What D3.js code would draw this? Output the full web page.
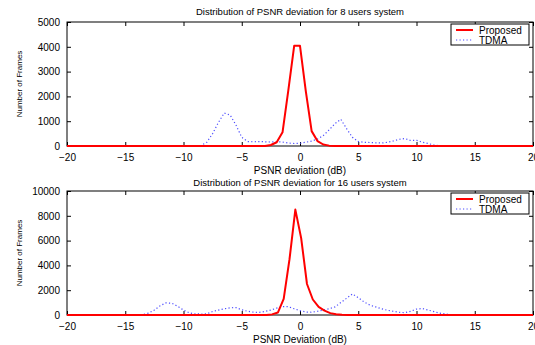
<!DOCTYPE html>
<html><head><meta charset="utf-8">
<script src="https://cdn.jsdelivr.net/npm/d3@7"></script>
<style>body{margin:0;background:#fff} svg{display:block} text{font-family:"Liberation Sans",Arial,Helvetica,sans-serif;fill:#000}</style>
</head><body><svg id="c" width="535" height="345"></svg>
<script>
// ---- data ----
const xTicks = [-20,-15,-10,-5,0,5,10,15,20];
const yTicks8 = [0,1000,2000,3000,4000,5000];
const yTicks16 = [0,2000,4000,6000,8000,10000];
const seriesNames = ["Proposed","TDMA"];

// 8 users
const prop8X = [-20,-3,-2.5,-2,-1.5,-1,-0.5,0,0.5,1,1.5,2,2.5,3,20];
const prop8Y = [0,0,40,150,550,2250,4040,4040,2200,600,200,60,15,0,0];
const tdma8X = [-20,-9,-8.5,-8,-7.5,-7,-6.5,-6,-5.5,-5,-4.5,-4,-3.5,-3,-2.5,-2,-1.5,-1,-0.5,0,0.5,1,1.5,2,2.5,3,3.5,4,4.5,5,5.5,6,6.5,7,7.5,8,8.5,9,9.5,10,10.5,11,11.5,12,12.5,20];
const tdma8Y = [0,0,20,150,500,950,1330,1250,850,350,180,170,180,170,160,170,160,120,100,110,150,200,280,420,650,900,1080,700,350,180,150,140,130,120,150,200,270,300,220,230,150,100,40,10,0,0];

// 16 users
const prop16X = [-20,-2.9,-2.4,-1.9,-1.4,-0.9,-0.4,0.1,0.6,1.1,1.6,2.1,2.6,3.1,3.6,4.1,20];
const prop16Y = [0,0,50,200,1300,4500,8500,6200,2500,1250,650,350,150,60,20,0,0];
const tdma16X = [-20,-14,-13.5,-13,-12.5,-12,-11.5,-11,-10.5,-10,-9.5,-9,-8.5,-8,-7.5,-7,-6.5,-6,-5.5,-5,-4.5,-4,-3.5,-3,-2.5,-2,-1.5,-1,-0.5,0,0.5,1,1.5,2,2.5,3,3.5,4,4.5,5,5.5,6,6.5,7,7.5,8,8.5,9,9.5,10,10.5,11,11.5,12,12.5,13,13.5,20];
const tdma16Y = [0,0,30,150,400,750,980,950,700,400,170,90,80,90,280,400,500,580,600,420,300,230,210,290,400,560,680,670,500,350,240,220,300,400,500,650,1000,1350,1700,1400,1050,800,650,500,380,300,220,190,300,480,520,400,270,150,80,20,0,0];

const panels = [
  {title:"Distribution of PSNR deviation for 8 users system", xlabel:"PSNR deviation (dB)", top:22, bottom:146, titleY:14.5, ymax:5000, yTicks:yTicks8,
   px:prop8X, py:prop8Y, tx:tdma8X, ty:tdma8Y},
  {title:"Distribution of PSNR deviation for 16 users system", xlabel:"PSNR Deviation (dB)", top:191, bottom:315, titleY:186, ymax:10000, yTicks:yTicks16,
   px:prop16X, py:prop16Y, tx:tdma16X, ty:tdma16Y}
];

const svg = d3.select("#c");
const L = 67, R = 533;
const x = d3.scaleLinear().domain([-20,20]).range([L,R]);

panels.forEach(p => {
  const y = d3.scaleLinear().domain([0,p.ymax]).range([p.bottom,p.top]);
  const g = svg.append("g");
  g.append("text").attr("x",(L+R)/2).attr("y",p.titleY).attr("text-anchor","middle").style("font-size","9.5px").text(p.title);
  g.append("text").attr("transform",`translate(22,${(p.top+p.bottom)/2}) rotate(-90)`).attr("text-anchor","middle").style("font-size","8px").text("Number of Frames");
  g.append("text").attr("x",(L+R)/2).attr("y",p.bottom+28).attr("text-anchor","middle").style("font-size","10px").text(p.xlabel);

  const xb = d3.axisBottom(x).tickValues(xTicks).tickSize(-4).tickPadding(8).tickFormat(d => d<0 ? "\u2212"+Math.abs(d) : String(d));
  const xt = d3.axisTop(x).tickValues(xTicks).tickSize(-4).tickFormat("");
  const yl = d3.axisLeft(y).tickValues(p.yTicks).tickSize(-4).tickPadding(7).tickFormat(d => String(d));
  const yr = d3.axisRight(y).tickValues(p.yTicks).tickSize(-4).tickFormat("");
  [[xb,`translate(0,${p.bottom})`],[xt,`translate(0,${p.top})`],[yl,`translate(${L},0)`],[yr,`translate(${R},0)`]].forEach(([ax,tr]) => {
    const a = g.append("g").attr("transform",tr).call(ax);
    a.select(".domain").remove();
    a.selectAll("line").attr("stroke","#000");
    a.selectAll("text").style("font-size","10px").style("font-family","'Liberation Sans',Arial,sans-serif");
  });
  g.append("rect").attr("x",L).attr("y",p.top).attr("width",R-L).attr("height",p.bottom-p.top).attr("fill","none").attr("stroke","#000").attr("stroke-width",1);

  const line = d3.line().x(d=>x(d[0])).y(d=>y(d[1]));
  g.append("path").datum(p.tx.map((v,i)=>[v,p.ty[i]])).attr("d",line).attr("fill","none").attr("stroke","#4d4dff").attr("stroke-width",1.2).attr("stroke-dasharray","1.2,2.3");
  g.append("path").datum(p.px.map((v,i)=>[v,p.py[i]])).attr("d",line).attr("fill","none").attr("stroke","#ff0000").attr("stroke-width",2).attr("stroke-linejoin","round");

  const lg = g.append("g").attr("transform",`translate(451,${p.top+2})`);
  lg.append("rect").attr("width",78).attr("height",21).attr("fill","#fff").attr("stroke","#000").attr("stroke-width",1);
  lg.append("line").attr("x1",5).attr("x2",22).attr("y1",6).attr("y2",6).attr("stroke","#ff0000").attr("stroke-width",2);
  lg.append("line").attr("x1",5).attr("x2",22).attr("y1",16).attr("y2",16).attr("stroke","#4d4dff").attr("stroke-width",1.2).attr("stroke-dasharray","1.2,2.3");
  lg.append("text").attr("x",28).attr("y",9.5).style("font-size","10px").text(seriesNames[0]);
  lg.append("text").attr("x",28).attr("y",19.5).style("font-size","10px").text(seriesNames[1]);
});
</script></body></html>
